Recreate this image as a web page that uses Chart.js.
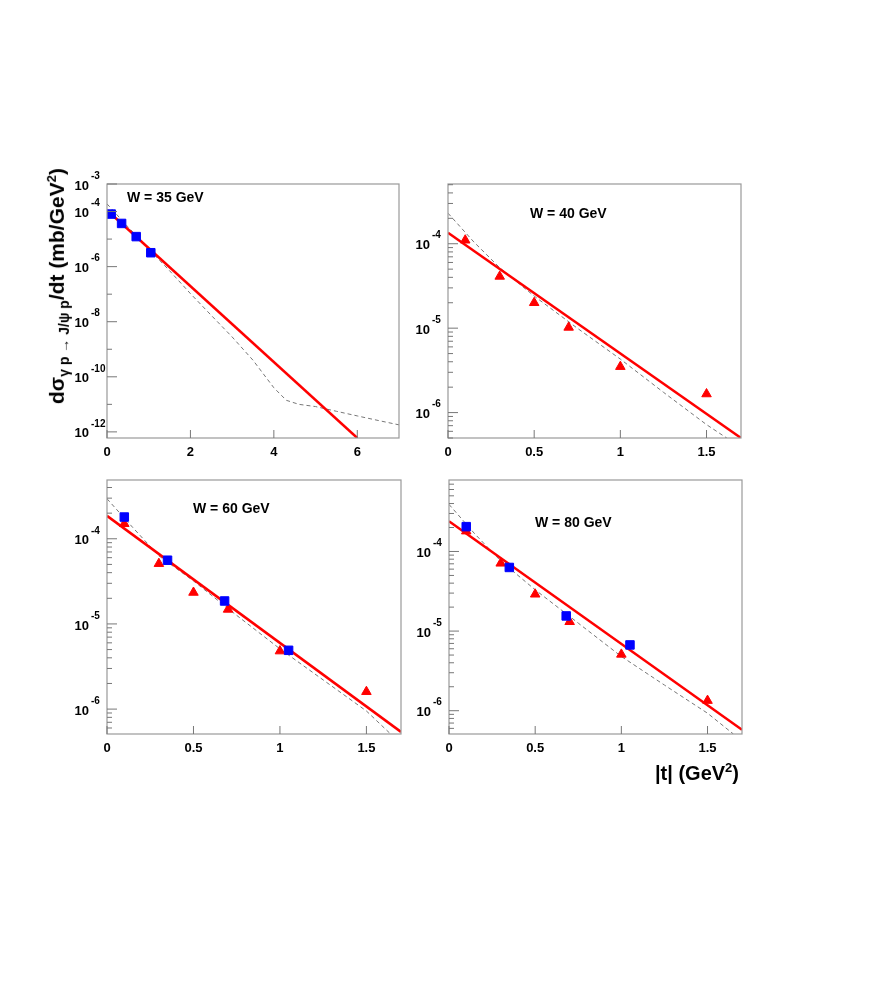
<!DOCTYPE html>
<html>
<head>
<meta charset="utf-8">
<script src="https://cdn.jsdelivr.net/npm/chart.js@4.4.1/dist/chart.umd.min.js"></script>
<style>
body { margin:0; background:#fff; width:872px; height:981px; position:relative; font-family:"Liberation Sans", Arial, sans-serif; }
canvas { position:absolute; }
.lbl { position:absolute; font-weight:bold; font-size:14px; white-space:nowrap; }
#ytitle { position:absolute; left:-62px; top:272px; width:240px; text-align:center; font-size:21px; font-weight:bold; transform:rotate(-90deg); white-space:nowrap; }
#xtitle { position:absolute; left:655px; top:760px; font-size:20px; font-weight:bold; white-space:nowrap; }
</style>
</head>
<body>
<canvas id="c35"></canvas>
<canvas id="c40"></canvas>
<canvas id="c60"></canvas>
<canvas id="c80"></canvas>
<div class="lbl" style="left:127px;top:189px">W = 35 GeV</div>
<div class="lbl" style="left:530px;top:205px">W = 40 GeV</div>
<div class="lbl" style="left:193px;top:500px">W = 60 GeV</div>
<div class="lbl" style="left:535px;top:514px">W = 80 GeV</div>
<div id="ytitle">dσ<sub style="font-size:14px">γ p → J/ψ p</sub>/dt (mb/GeV<sup style="font-size:13px">2</sup>)</div>
<div id="xtitle">|t| (GeV<sup style="font-size:13px">2</sup>)</div>
<script>
// W = 35 GeV
const t35sq = [0.1, 0.35, 0.7, 1.05];
const y35sq = [8.1e-5, 3.7e-5, 1.23e-5, 3.2e-6];
const t35fit = [0, 6];
const y35fit = [1.12e-4, 6.0e-13];
const t35model = [0, 0.5, 1, 1.5, 2, 2.5, 3, 3.5, 4, 4.3, 4.6, 5, 5.5, 6, 6.5, 7];
const y35model = [1.9e-4, 2.8e-5, 4.4e-6, 7.1e-7, 1.05e-7, 1.7e-8, 2.8e-9, 4.0e-10, 4.0e-11, 1.4e-11, 1.0e-11, 8.3e-12, 5.6e-12, 3.8e-12, 2.6e-12, 1.8e-12];

// W = 40 GeV
const t40tri = [0.1, 0.3, 0.5, 0.7, 1.0, 1.5];
const y40tri = [1.1e-4, 4.1e-5, 2.0e-5, 1.02e-5, 3.5e-6, 1.66e-6];
const t40fit = [0, 1.7];
const y40fit = [1.35e-4, 5.0e-7];
const t40model = [0, 0.15, 0.3, 0.5, 0.75, 1.0, 1.25, 1.5, 1.63];
const y40model = [2.3e-4, 1.05e-4, 5.2e-5, 2.4e-5, 1.0e-5, 4.3e-6, 1.74e-6, 7.2e-7, 4.8e-7];

// W = 60 GeV
const t60sq = [0.1, 0.35, 0.68, 1.05];
const y60sq = [1.8e-4, 5.6e-5, 1.86e-5, 4.9e-6];
const t60tri = [0.1, 0.3, 0.5, 0.7, 1.0, 1.5];
const y60tri = [1.5e-4, 5.1e-5, 2.34e-5, 1.48e-5, 4.8e-6, 1.6e-6];
const t60fit = [0, 1.7];
const y60fit = [1.86e-4, 5.4e-7];
const t60model = [0, 0.15, 0.3, 0.5, 0.75, 1.0, 1.25, 1.5, 1.64];
const y60model = [2.95e-4, 1.35e-4, 6.3e-5, 3.2e-5, 1.26e-5, 5.1e-6, 2.2e-6, 9.5e-7, 5.1e-7];

// W = 80 GeV
const t80sq = [0.1, 0.35, 0.68, 1.05];
const y80sq = [2.05e-4, 6.3e-5, 1.55e-5, 6.7e-6];
const t80tri = [0.1, 0.3, 0.5, 0.7, 1.0, 1.5];
const y80tri = [1.8e-4, 7.1e-5, 2.9e-5, 1.31e-5, 5.1e-6, 1.34e-6];
const t80fit = [0, 1.7];
const y80fit = [2.4e-4, 5.75e-7];
const t80model = [0, 0.15, 0.3, 0.5, 0.75, 1.0, 1.25, 1.5, 1.65];
const y80model = [3.9e-4, 1.66e-4, 7.6e-5, 3.3e-5, 1.26e-5, 4.8e-6, 2.1e-6, 9.3e-7, 5.1e-7];

const xTicks35 = [0, 2, 4, 6];
const xTicksLow = [0, 0.5, 1, 1.5];
const yExp35 = [-3, -4, -6, -8, -10, -12];
const yExpLow = [-4, -5, -6];

const pts = (xs, ys) => xs.map((x, i) => ({x: x, y: ys[i]}));

// ROOT style axes, tick marks and "10^n" labels
const frame = {
  id: 'frame',
  afterDraw(chart) {
    const ctx = chart.ctx, a = chart.chartArea, o = chart.options.plugins.frame;
    const ys = chart.scales.y, xs = chart.scales.x;
    ctx.save();
    ctx.strokeStyle = '#999'; ctx.lineWidth = 1.2;
    ctx.strokeRect(a.left, a.top, a.right - a.left, a.bottom - a.top);
    ctx.strokeStyle = '#777'; ctx.lineWidth = 1;
    ctx.fillStyle = '#000';
    for (let e = Math.floor(Math.log10(ys.min)); e <= Math.ceil(Math.log10(ys.max)); e++) {
      for (let m = 1; m < 10; m++) {
        if (o.decadesOnly && m > 1) break;
        const v = m * Math.pow(10, e);
        if (v < ys.min || v > ys.max * 1.001) continue;
        const py = ys.getPixelForValue(v);
        const major = m === 1 && o.yexp.includes(e);
        ctx.beginPath(); ctx.moveTo(a.left, py); ctx.lineTo(a.left + (major ? 10 : 5), py); ctx.stroke();
        if (major) {
          ctx.font = 'bold 13px "Liberation Sans"';
          ctx.textAlign = 'right'; ctx.textBaseline = 'middle';
          ctx.fillText('10', a.left - 18, py + 2);
          ctx.font = 'bold 10px "Liberation Sans"';
          ctx.textAlign = 'left';
          ctx.fillText(String(e), a.left - 16, py - 8);
        }
      }
    }
    o.xticks.forEach(v => {
      const px = xs.getPixelForValue(v);
      ctx.beginPath(); ctx.moveTo(px, a.bottom); ctx.lineTo(px, a.bottom - 8); ctx.stroke();
      ctx.font = 'bold 13px "Liberation Sans"';
      ctx.textAlign = 'center'; ctx.textBaseline = 'top';
      ctx.fillText(String(v), px, a.bottom + 8);
    });
    ctx.restore();
  }
};

function panel(id, box, xmax, ymin, ymax, sets, xticks, yexp, decadesOnly) {
  const cv = document.getElementById(id);
  cv.width = box.w + 80; cv.height = box.h + 50;
  cv.style.left = (box.l - 60) + 'px'; cv.style.top = (box.t - 20) + 'px';
  new Chart(cv, {
    type: 'scatter',
    data: { datasets: sets },
    options: {
      responsive: false, animation: false,
      layout: { padding: { top: 20, right: 20, left: 0, bottom: 0 } },
      plugins: { legend: { display: false }, tooltip: { enabled: false },
        frame: { xticks: xticks, yexp: yexp, decadesOnly: decadesOnly } },
      scales: {
        x: { type: 'linear', min: 0, max: xmax, grid: { display: false }, border: { display: false },
             ticks: { display: false }, afterFit: s => { s.height = 30; } },
        y: { type: 'logarithmic', min: ymin, max: ymax, grid: { display: false }, border: { display: false },
             ticks: { display: false }, afterFit: s => { s.width = 60; } }
      }
    },
    plugins: [frame]
  });
}

const fitSet = d => ({ data: d, showLine: true, borderColor: '#ff0000', borderWidth: 2.5, pointRadius: 0, order: 2 });
const modelSet = d => ({ data: d, showLine: true, borderColor: '#777', borderWidth: 1, borderDash: [4, 3], pointRadius: 0, order: 3 });
const sqSet = d => ({ data: d, pointStyle: 'rect', pointRadius: 6, backgroundColor: '#0000ff', borderColor: '#0000ff', order: 0 });
const triSet = d => ({ data: d, pointStyle: 'triangle', pointRadius: 5.5, backgroundColor: '#ff0000', borderColor: '#ff0000', order: 1 });

panel('c35', {l: 107, t: 184, w: 292, h: 254}, 7, 6.0e-13, 1.0e-3,
  [modelSet(pts(t35model, y35model)), fitSet(pts(t35fit, y35fit)), sqSet(pts(t35sq, y35sq))], xTicks35, yExp35, true);
panel('c40', {l: 448, t: 184, w: 293, h: 254}, 1.7, 5.0e-7, 5.1e-4,
  [modelSet(pts(t40model, y40model)), fitSet(pts(t40fit, y40fit)), triSet(pts(t40tri, y40tri))], xTicksLow, yExpLow, false);
panel('c60', {l: 107, t: 480, w: 294, h: 254}, 1.7, 5.1e-7, 4.9e-4,
  [modelSet(pts(t60model, y60model)), fitSet(pts(t60fit, y60fit)), triSet(pts(t60tri, y60tri)), sqSet(pts(t60sq, y60sq))], xTicksLow, yExpLow, false);
panel('c80', {l: 449, t: 480, w: 293, h: 254}, 1.7, 5.1e-7, 7.9e-4,
  [modelSet(pts(t80model, y80model)), fitSet(pts(t80fit, y80fit)), triSet(pts(t80tri, y80tri)), sqSet(pts(t80sq, y80sq))], xTicksLow, yExpLow, false);
</script>
</body>
</html>
